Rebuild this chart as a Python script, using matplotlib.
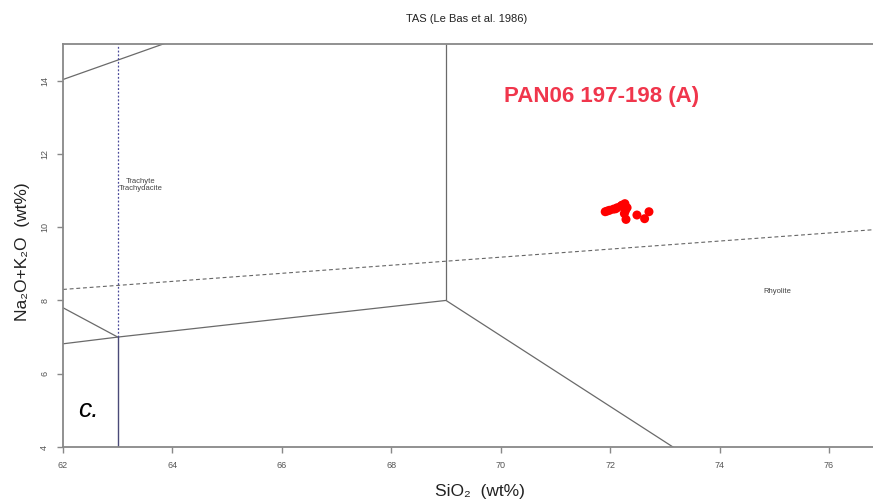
import matplotlib
matplotlib.use("Agg")
import matplotlib.pyplot as plt

plt.rcParams['font.family'] = ['Liberation Sans', 'DejaVu Sans']

# Sample analyses: SiO2 and total alkalis (wt%)
sio2 = [71.91, 71.95, 71.99, 72.06, 72.10, 72.13, 72.20, 72.22, 72.27, 72.31,
        72.28, 72.26, 72.29, 72.49, 72.63, 72.71]
alkali = [10.42, 10.44, 10.46, 10.49, 10.50, 10.53, 10.58, 10.60, 10.64, 10.53,
          10.45, 10.37, 10.21, 10.33, 10.23, 10.42]

sample_name = "PAN06 197-198 (A)"
panel_letter = "c."

# TAS field boundaries (Le Bas et al. 1986) within the plotted window
solid_bounds = [
    ([57.6, 69.0], [11.7, 17.73]),          # trachyte / trachydacite upper limit
    ([69.0, 69.0], [8.0, 15.0]),            # dacite-trachydacite / rhyolite
    ([69.0, 77.3], [8.0, 0.0]),             # dacite / rhyolite
    ([57.0, 63.0, 69.0], [5.9, 7.0, 8.0]),  # andesite-dacite upper limit
    ([61.0, 63.0], [8.6, 7.0]),             # trachyandesite / trachydacite
]
q_line = ([63.0, 63.0], [7.0, 15.0])        # trachyte vs trachydacite divide
dacite_line = ([63.0, 63.0], [4.0, 7.0])    # andesite / dacite
alk_line = ([62.0, 77.0], [8.3, 9.95])      # alkaline / subalkaline divide

field_labels = [("Trachyte\nTrachydacite", 63.42, 11.15), ("Rhyolite", 75.05, 8.25)]

xticks = [62, 64, 66, 68, 70, 72, 74, 76]
yticks = [4, 6, 8, 10, 12, 14]

fig = plt.figure(figsize=(8.73, 5.04), dpi=100)
ax = fig.add_axes([0.0722, 0.113, 0.93, 0.8])
ax.set_xlim(62, 76.84)
ax.set_ylim(4, 15)

for xs, ys in solid_bounds:
    ax.plot(xs, ys, color="#6a6a6a", lw=0.9, solid_capstyle="butt")
ax.plot(*q_line, color="#4a4a9a", lw=0.9, ls=(0, (1.5, 1.5)))
ax.plot(*dacite_line, color="#4a4a78", lw=1.0)
ax.plot(*alk_line, color="#666666", lw=0.8, ls=(0, (3.5, 2.5)))

for txt, x, y in field_labels:
    ax.text(x, y, txt, fontsize=5.5, color="#444444", ha="center", va="center",
            linespacing=1.0)

ax.scatter(sio2, alkali, s=42, color="#ff0000", edgecolors="none", zorder=5)

ax.text(71.84, 13.55, sample_name, fontsize=16, fontweight="bold",
        color="#f0364c", ha="center", va="center")
ax.text(62.47, 5.0, panel_letter, fontsize=19, fontstyle="italic",
        color="black", ha="center", va="center")

for side in ("left", "top", "bottom", "right"):
    ax.spines[side].set_color("#888888")
    ax.spines[side].set_linewidth(1.3)

ax.set_xticks(xticks)
ax.set_yticks(yticks)
ax.tick_params(axis="both", colors="#888888", labelcolor="#555555",
               labelsize=6.5, length=4, width=1.0, direction="out", pad=6)
for lab in ax.get_yticklabels():
    lab.set_rotation(90)
    lab.set_va("center")

fig.text(0.534, 0.963, "TAS (Le Bas et al. 1986)", fontsize=8, color="#222222",
         ha="center", va="center")
fig.text(0.55, 0.024, "SiO\u2082  (wt%)", fontsize=12.5, color="#222222",
         ha="center", va="center")
fig.text(0.026, 0.50, "Na\u2082O+K\u2082O  (wt%)", fontsize=12.5, color="#222222",
         ha="center", va="center", rotation=90)

fig.savefig("out.png", dpi=100, facecolor="white")
